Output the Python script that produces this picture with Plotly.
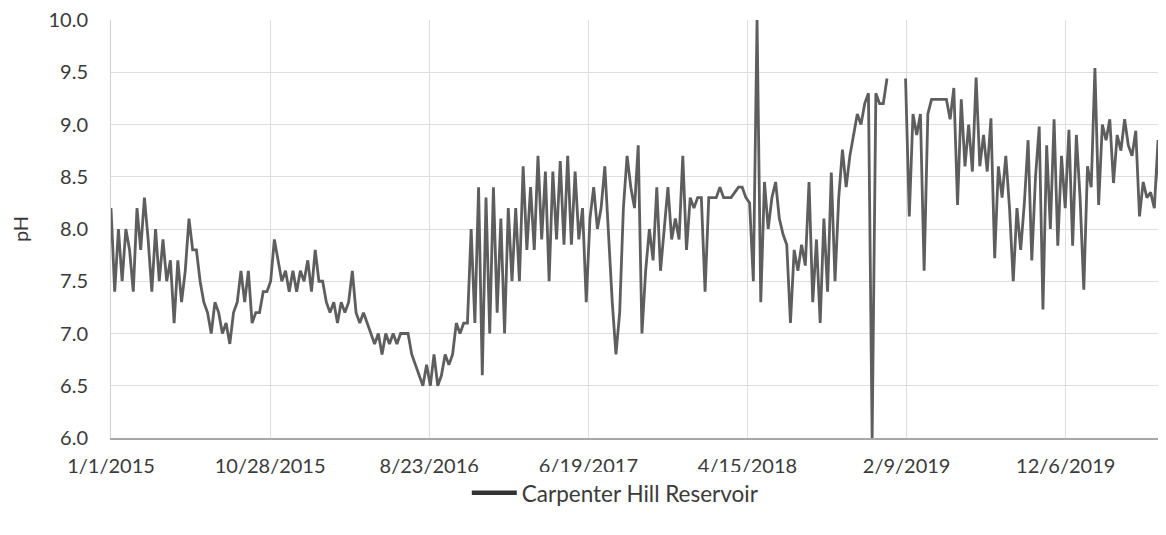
import pandas as pd
import plotly.graph_objects as go

# Weekly pH readings (Carpenter Hill Reservoir)
start_date = "2015-01-01"
ph_2015 = [8.2, 7.4, 8.0, 7.5, 8.0, 7.8, 7.4, 8.2, 7.8, 8.3, 7.9, 7.4, 8.0, 7.5, 7.9,
           7.5, 7.7, 7.1, 7.7, 7.3, 7.6, 8.1, 7.8, 7.8, 7.5, 7.3, 7.2, 7.0, 7.3, 7.2,
           7.0, 7.1, 6.9, 7.2, 7.3, 7.6, 7.3, 7.6, 7.1, 7.2, 7.2, 7.4, 7.4]
ph_2016a = [7.5, 7.9, 7.7, 7.5, 7.6, 7.4, 7.6, 7.4, 7.6, 7.5, 7.7, 7.4, 7.8, 7.5, 7.5,
            7.3, 7.2, 7.3, 7.1, 7.3, 7.2, 7.3, 7.6, 7.2, 7.1, 7.2, 7.1, 7.0, 6.9, 7.0,
            6.8, 7.0, 6.9, 7.0, 6.9, 7.0, 7.0, 7.0, 6.8, 6.7, 6.6, 6.5, 6.7, 6.5]
ph_2016b = [6.8, 6.5, 6.6, 6.8, 6.7, 6.8, 7.1, 7.0, 7.1, 7.1,
            8.0, 7.1, 8.4, 6.6, 8.3, 7.0, 8.4, 7.2, 8.1, 7.0, 8.2, 7.5, 8.2, 7.5, 8.6,
            7.8, 8.4, 7.8, 8.7, 7.9, 8.55, 7.5, 8.55, 7.9, 8.65, 7.85, 8.7, 7.85, 8.55,
            7.9, 8.2, 7.3]
ph_2017 = [8.1, 8.4, 8.0, 8.2, 8.6, 7.9, 7.3, 6.8, 7.2, 8.2, 8.7, 8.4, 8.2, 8.8, 7.0,
           7.6, 8.0, 7.7, 8.4, 7.6, 8.0, 8.4, 7.9, 8.1, 7.9, 8.7, 7.8, 8.3, 8.2, 8.3,
           8.3, 7.4, 8.3, 8.3, 8.3, 8.4, 8.3, 8.3, 8.3, 8.35, 8.4, 8.4, 8.3]
ph_2018 = [8.25, 7.5, 10.0, 7.3, 8.45, 8.0, 8.3, 8.45, 8.1, 7.95, 7.85, 7.1, 7.8, 7.6,
           7.85, 7.65, 8.45, 7.3, 7.9, 7.1, 8.1, 7.4, 8.54, 7.5, 8.3, 8.76, 8.4, 8.7,
           8.9, 9.1, 9.0, 9.2, 9.3, 6.0, 9.3, 9.2, 9.2, 9.44, None, None, None, None, 9.44]
ph_2019 = [8.12, 9.1, 8.9, 9.1, 7.6, 9.1, 9.24, 9.24, 9.24, 9.24, 9.24, 9.05, 9.35, 8.23,
           9.24, 8.6, 9.0, 8.55, 9.45, 8.6, 8.9, 8.55, 9.06, 7.72, 8.6, 8.3, 8.7, 8.2,
           7.5, 8.2, 7.8, 8.25, 8.85, 7.7, 8.5, 8.98, 7.23, 8.8, 8.0, 9.05, 7.84, 8.7, 8.2]
ph_2020 = [8.95, 7.84, 8.9, 8.3, 7.42, 8.6, 8.4, 9.54, 8.23, 9.0, 8.85, 9.05, 8.44, 8.9,
           8.75, 9.05, 8.8, 8.7, 8.94, 8.12, 8.45, 8.3, 8.35, 8.2, 8.85, 7.64, 8.4, 7.1, 8.2]

tick_labels = ["1/1/2015", "10/28/2015", "8/23/2016", "6/19/2017",
               "4/15/2018", "2/9/2019", "12/6/2019"]
series_name = "Carpenter Hill Reservoir"

ph = ph_2015 + ph_2016a + ph_2016b + ph_2017 + ph_2018 + ph_2019 + ph_2020
dates = pd.date_range(start=start_date, periods=len(ph), freq="7D")
tick_dates = pd.date_range(start=start_date, periods=len(tick_labels), freq="300D")

fig = go.Figure()
fig.add_trace(go.Scatter(
    x=dates, y=ph, mode="lines", name=series_name,
    line=dict(color="#5e5e5e", width=2.8),
    connectgaps=False, showlegend=False,
))
# legend entry (thicker, darker key line as in the original)
fig.add_trace(go.Scatter(
    x=[None], y=[None], mode="lines", name=series_name,
    line=dict(color="#333333", width=4.5), showlegend=True,
))

font_family = "Lato, 'Open Sans', sans-serif"
text_color = "#3a3a3a"
fig.update_layout(
    width=1158, height=530,
    margin=dict(l=103, r=0, t=12, b=100),
    paper_bgcolor="white", plot_bgcolor="white",
    font=dict(family=font_family, size=20, color=text_color),
    legend=dict(orientation="h", x=0.478, xanchor="center", y=-0.132, yanchor="middle",
                font=dict(size=22.5, color=text_color), itemwidth=45),
)
fig.update_xaxes(
    type="date",
    range=[pd.Timestamp(start_date), pd.Timestamp("2020-06-12")],
    tickvals=tick_dates, ticktext=tick_labels,
    showgrid=True, gridcolor="#dedede", gridwidth=1,
    showline=True, linecolor="#a8a8a8", linewidth=1.5,
    ticks="", ticklabelstandoff=9, automargin=False,
    tickfont=dict(size=20, color=text_color),
    zeroline=False,
)
fig.update_yaxes(
    range=[6, 10], dtick=0.5, tick0=6, tickformat=".1f",
    showgrid=True, gridcolor="#dedede", gridwidth=1,
    showline=True, linecolor="#d0d0d0", linewidth=1,
    ticks="", ticklabelstandoff=18, ticklabeloverflow="allow",
    tickfont=dict(size=20, color=text_color),
    title=dict(text="pH", font=dict(size=20, color=text_color), standoff=31),
    automargin=False,
    zeroline=False,
)

fig.write_html("out.html")
